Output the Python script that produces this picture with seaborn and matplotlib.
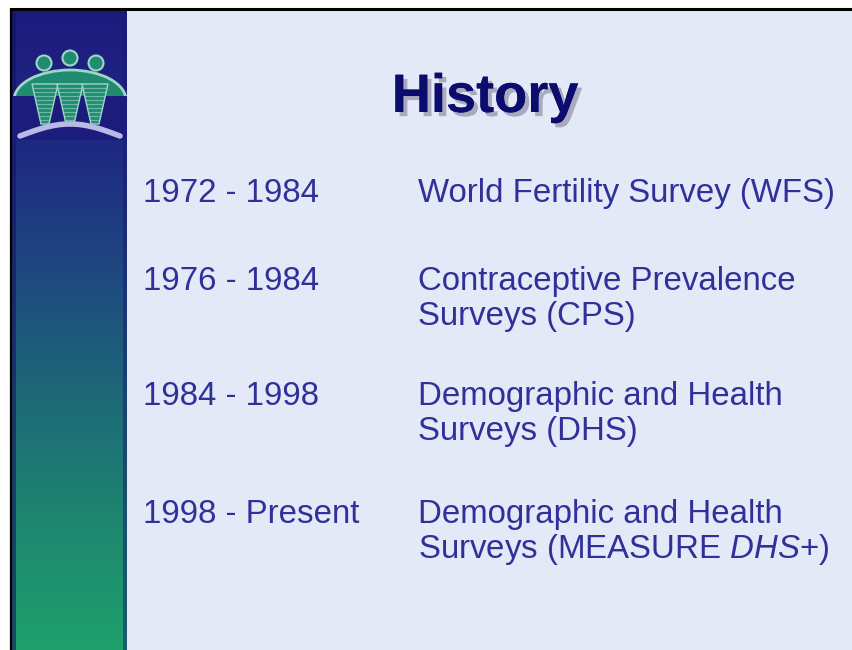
import numpy as np
import matplotlib
matplotlib.use("Agg")
import matplotlib.pyplot as plt
import seaborn as sns
from matplotlib.colors import LinearSegmentedColormap
from matplotlib.patches import Circle, Polygon, Ellipse, Rectangle
from matplotlib import patheffects as pe

# ---- content ----
title = "History"
periods = ["1972 - 1984", "1976 - 1984", "1984 - 1998", "1998 - Present"]
programs = [
    ["World Fertility Survey (WFS)"],
    ["Contraceptive Prevalence", "Surveys (CPS)"],
    ["Demographic and Health", "Surveys (DHS)"],
    ["Demographic and Health", "Surveys (MEASURE $\\it{DHS}$+)"],
]
row_baselines = [202, 290, 405, 523]

sns.set_theme(style="white")
plt.rcParams['font.family'] = ['Liberation Sans', 'DejaVu Sans']
plt.rcParams['mathtext.fontset'] = 'custom'
plt.rcParams['mathtext.it'] = 'Liberation Sans:italic'
plt.rcParams['mathtext.rm'] = 'Liberation Sans'

W, H = 852, 650
fig = plt.figure(figsize=(W / 100, H / 100), dpi=100)
fig.patch.set_facecolor("white")
ax = fig.add_axes([0, 0, 1, 1])
ax.set_xlim(0, W)
ax.set_ylim(H, 0)
ax.axis("off")

# slide background
ax.add_patch(Rectangle((11, 9), W - 11, H - 9, facecolor="#e4e9f8", edgecolor="none", zorder=0))
# frame lines
ax.plot([10, W], [8.5, 8.5], color="black", lw=2.2, zorder=5, solid_capstyle="butt")
ax.plot([10.5, 10.5], [8, H], color="black", lw=1.6, zorder=5, solid_capstyle="butt")

# left gradient bar
cmap = LinearSegmentedColormap.from_list(
    "bar", [(0.0, "#1d1a7e"), (0.22, "#1e2a82"), (0.42, "#1f4a80"),
            (0.6, "#1d6878"), (0.8, "#1e8670"), (1.0, "#1fa06c")])
grad = np.linspace(0, 1, 256).reshape(-1, 1)
ax.imshow(grad, cmap=cmap, extent=[12, 127, H, 10], aspect="auto", zorder=1)
# darker edges of the bar
ax.add_patch(Rectangle((12, 10), 4, H - 10, facecolor="#14145e", alpha=0.6, edgecolor="none", zorder=2))
ax.add_patch(Rectangle((123, 10), 4, H - 10, facecolor="#1a1a70", alpha=0.5, edgecolor="none", zorder=2))

# logo
green = "#1f8c72"
light = "#9fd6c6"
navy = "#1c1c7c"
ax.add_patch(Ellipse((70, 100), 112, 60, facecolor=green, edgecolor=light, lw=2.0, zorder=3))
ax.add_patch(Rectangle((12, 96), 115, 44, facecolor=navy, edgecolor="none", zorder=3))
for cx in (45, 70, 95):
    leg = Polygon([[cx - 13, 84], [cx + 13, 84], [cx + 4, 124], [cx - 4, 124]],
                  closed=True, facecolor=green, edgecolor=light, lw=1.0, zorder=4)
    ax.add_patch(leg)
    for yy in range(88, 124, 4):
        ln, = ax.plot([cx - 14, cx + 14], [yy, yy], color=light, lw=0.9, alpha=0.6, zorder=4)
        ln.set_clip_path(leg)
for cx, cy in ((44, 63), (70, 58), (96, 63)):
    ax.add_patch(Circle((cx, cy), 7.5, facecolor=green, edgecolor=light, lw=1.5, zorder=4))
t = np.linspace(0, 1, 60)
ax.plot(20 + 100 * t, 136 - 12 * np.sin(np.pi * t), color="#b9b9e6", lw=4,
        solid_capstyle="round", zorder=4)

# title with shadow
ax.text(485, 112, title, fontsize=39, fontweight="bold", color="#0c0c6e",
        ha="center", va="baseline", zorder=6,
        path_effects=[pe.withSimplePatchShadow(offset=(3, -3), shadow_rgbFace="#a4a4b8", alpha=0.9),
                      pe.Normal()])

txt_color = "#30309a"
for base, period, lines in zip(row_baselines, periods, programs):
    ax.text(143, base, period, fontsize=23.8, color=txt_color, ha="left", va="baseline", zorder=6)
    for i, line in enumerate(lines):
        ax.text(418, base + 35 * i, line, fontsize=23.8, color=txt_color,
                ha="left", va="baseline", zorder=6)

fig.savefig("out.png", dpi=100)
